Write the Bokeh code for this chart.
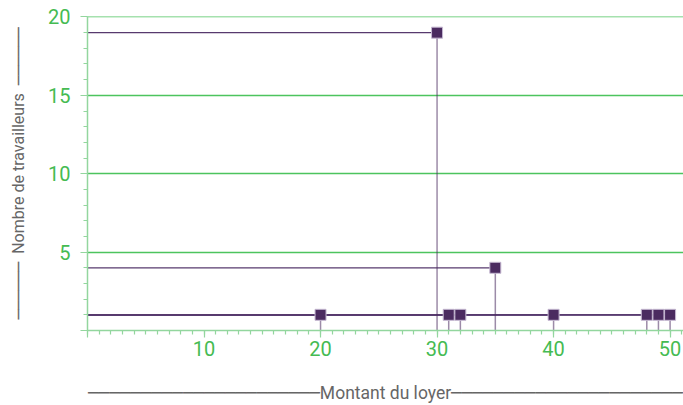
from bokeh.plotting import figure
from bokeh.models import Range1d, FixedTicker, ColumnDataSource
from bokeh.embed import file_html
from bokeh.resources import INLINE

# ---- data ----
loyer = [20, 30, 31, 32, 35, 40, 48, 49, 50]
travailleurs = [1, 19, 1, 1, 4, 1, 1, 1, 1]
x_ticks = [0, 10, 20, 30, 40, 50]
y_ticks = [0, 5, 10, 15, 20]
x_title = "Montant du loyer"
y_title = "Nombre de travailleurs"

# ---- styles ----
GREEN_TXT = "#45bb52"
GREEN_GRID = "#4cc45e"
GREEN_AXIS = "#93d69e"
PURPLE = "#4b2b60"
PURPLE_LINE = "#573a6e"
GRAY = "#666666"
FONT = "Roboto, 'DejaVu Sans'"
DASH = "\u2500"

src = ColumnDataSource(dict(
    x=loyer, y=travailleurs,
    zero=[0] * len(loyer),
))

p = figure(width=683, height=405, output_backend="svg", toolbar_location=None,
           x_range=Range1d(0, 51.15), y_range=Range1d(0, 20.03),
           min_border_left=87, min_border_right=0, min_border_top=16,
           min_border_bottom=73)
p.outline_line_color = None
p.background_fill_color = "white"
p.border_fill_color = "white"

# grid
p.xgrid.visible = False
p.ygrid.grid_line_color = GREEN_GRID
p.ygrid.grid_line_width = 1.4
p.ygrid.ticker = FixedTicker(ticks=[5, 10, 15, 20])

# axes
p.xaxis.ticker = FixedTicker(ticks=x_ticks, minor_ticks=list(range(0, 52)))
p.yaxis.ticker = FixedTicker(ticks=y_ticks, minor_ticks=list(range(0, 21)))
p.xaxis.major_label_overrides = {0: ""}
p.yaxis.major_label_overrides = {0: ""}

for ax in (p.xaxis[0], p.yaxis[0]):
    ax.axis_line_color = GREEN_AXIS
    ax.axis_line_width = 1.5
    ax.major_tick_line_color = GREEN_AXIS
    ax.minor_tick_line_color = GREEN_AXIS
    ax.major_tick_line_width = 1.2
    ax.minor_tick_line_width = 1.2
    ax.major_tick_out = 7
    ax.major_tick_in = 0
    ax.minor_tick_out = 4
    ax.minor_tick_in = 0
    ax.major_label_text_color = GREEN_TXT
    ax.major_label_text_font = "Roboto"
    ax.major_label_text_font_size = "20px"
    ax.axis_label_text_color = GRAY
    ax.axis_label_text_font = FONT
    ax.axis_label_text_font_style = "normal"

p.xaxis.axis_label_text_font_size = "17.5px"
p.yaxis.axis_label_text_font_size = "16px"
p.xaxis.major_label_standoff = 3
p.yaxis.major_label_standoff = 10
p.xaxis.axis_label_standoff = 24
p.yaxis.axis_label_standoff = 17

p.xaxis.axis_label = DASH * 22 + x_title + DASH * 22
p.yaxis.axis_label = DASH * 6 + "\u00a0\u00a0" + y_title + "\u00a0\u00a0" + DASH * 6

# drop lines
p.segment(x0="zero", y0="y", x1="x", y1="y", source=src,
          line_color=PURPLE_LINE, line_width=1.2)
p.segment(x0="x", y0="zero", x1="x", y1="y", source=src,
          line_color=PURPLE, line_alpha=0.55, line_width=1.5)

# markers
p.scatter(x="x", y="y", source=src, marker="square", size=11,
          fill_color=PURPLE, line_color="#c6b9d2", line_width=1)

open("out.html", "w").write(file_html(p, INLINE))
